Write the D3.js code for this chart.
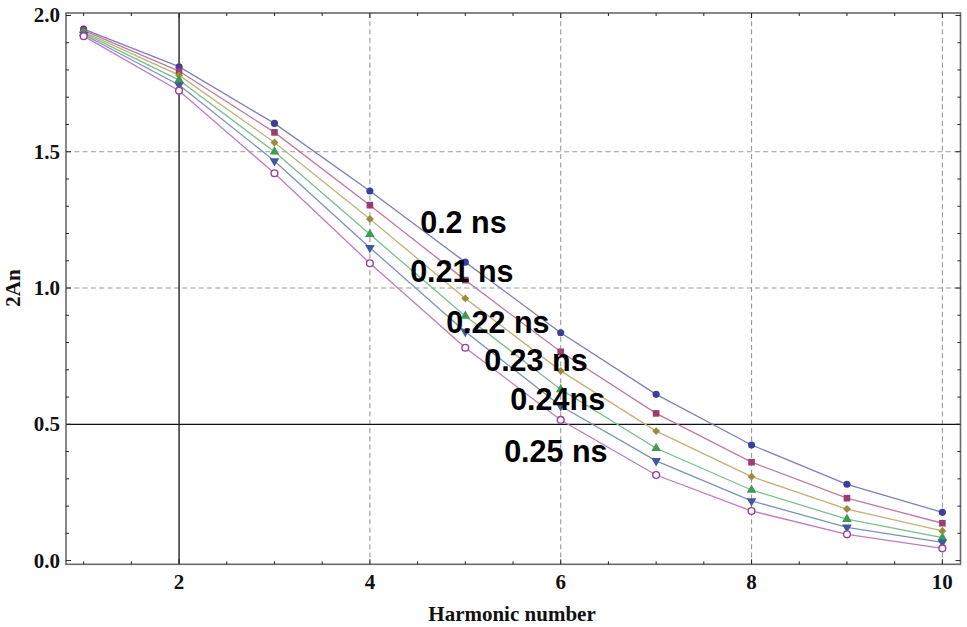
<!DOCTYPE html>
<html>
<head>
<meta charset="utf-8">
<script src="https://cdn.jsdelivr.net/npm/d3@7"></script>
<style>
  html, body { margin: 0; padding: 0; background: #fff; }
  svg { display: block; }
</style>
</head>
<body>
<svg id="chart" width="967" height="627"></svg>
<script>
// ---- data ----
const harmonics = [1, 2, 3, 4, 5, 6, 7, 8, 9, 10];
const seriesNames = ["0.2 ns", "0.21 ns", "0.22 ns", "0.23 ns", "0.24ns", "0.25 ns"];
const s020 = [1.950, 1.812, 1.604, 1.356, 1.095, 0.836, 0.610, 0.424, 0.280, 0.177];
const s021 = [1.945, 1.796, 1.571, 1.304, 1.029, 0.766, 0.540, 0.361, 0.229, 0.137];
const s022 = [1.940, 1.781, 1.534, 1.253, 0.962, 0.696, 0.475, 0.308, 0.189, 0.109];
const s023 = [1.935, 1.763, 1.500, 1.197, 0.897, 0.628, 0.412, 0.259, 0.152, 0.084];
const s024 = [1.930, 1.745, 1.466, 1.148, 0.840, 0.567, 0.366, 0.219, 0.122, 0.067];
const s025 = [1.924, 1.724, 1.421, 1.091, 0.781, 0.516, 0.314, 0.182, 0.0965, 0.045];
const seriesValues = [s020, s021, s022, s023, s024, s025];
// label anchors (data units)
const labelX = [4.527, 4.422, 4.799, 5.198, 5.47, 5.407];
const labelY = [1.202, 1.022, 0.835, 0.6955, 0.5525, 0.3617];
const xTickValues = [2, 4, 6, 8, 10];
const yTickValues = [0.0, 0.5, 1.0, 1.5, 2.0];
const xTickLabels = ["2", "4", "6", "8", "10"];
const yTickLabels = ["0.0", "0.5", "1.0", "1.5", "2.0"];
const xGrid = [4, 6, 8, 10];
const yGrid = [1.0, 1.5];
const axisOrigin = [2, 0.5];

// ---- styles ----
const markerColors = ["#3d3d9c", "#9c3d72", "#9c8a3d", "#3d9c52", "#3d5a9c", "#9c3d9c"];
const lineColors   = ["#7e7ec0", "#c07a9e", "#c0b27a", "#7ac08a", "#7a92c0", "#c07ac0"];

const svg = d3.select("#chart");
const L = 66, R = 960.5, T = 13, B = 564.3;

const x = d3.scaleLinear().domain([0.815, 10.19]).range([L, R]);
const y = d3.scaleLinear().domain([-0.0136, 2.009]).range([B, T]);

// grid
const g = svg.append("g");
g.selectAll("line.gx").data(xGrid).join("line")
  .attr("x1", d => x(d)).attr("x2", d => x(d))
  .attr("y1", T).attr("y2", B)
  .attr("stroke", "#9a9a9a").attr("stroke-width", 1.1).attr("stroke-dasharray", "5,3.3");
g.selectAll("line.gy").data(yGrid).join("line")
  .attr("y1", d => y(d)).attr("y2", d => y(d))
  .attr("x1", L).attr("x2", R)
  .attr("stroke", "#9a9a9a").attr("stroke-width", 1.1).attr("stroke-dasharray", "5,3.3");

// axes through origin
svg.append("line").attr("x1", x(axisOrigin[0])).attr("x2", x(axisOrigin[0]))
  .attr("y1", T).attr("y2", B).attr("stroke", "#111").attr("stroke-width", 1.3);
svg.append("line").attr("y1", y(axisOrigin[1])).attr("y2", y(axisOrigin[1]))
  .attr("x1", L).attr("x2", R).attr("stroke", "#111").attr("stroke-width", 1.3);

// frame
svg.append("rect").attr("x", L).attr("y", T).attr("width", R - L).attr("height", B - T)
  .attr("fill", "none").attr("stroke", "#6a6a6a").attr("stroke-width", 1.6);

// frame ticks
const xMinor = d3.range(1, 10.01, 0.5);
const yMinor = d3.range(0, 2.001, 0.1).map(v => +v.toFixed(2));
const isMajorX = v => Math.abs(v / 2 - Math.round(v / 2)) < 1e-6;
const isMajorY = v => Math.abs(v / 0.5 - Math.round(v / 0.5)) < 1e-6;
const ticks = svg.append("g").attr("stroke", "#222").attr("stroke-width", 1);
xMinor.forEach(v => {
  const len = isMajorX(v) ? 5 : 3;
  ticks.append("line").attr("x1", x(v)).attr("x2", x(v)).attr("y1", B).attr("y2", B - len);
  ticks.append("line").attr("x1", x(v)).attr("x2", x(v)).attr("y1", T).attr("y2", T + len);
});
yMinor.forEach(v => {
  const len = isMajorY(v) ? 5 : 3;
  ticks.append("line").attr("y1", y(v)).attr("y2", y(v)).attr("x1", L).attr("x2", L + len);
  ticks.append("line").attr("y1", y(v)).attr("y2", y(v)).attr("x1", R).attr("x2", R - len);
});

// tick labels
const serif = "'Liberation Serif','Times New Roman',serif";
svg.append("g").selectAll("text").data(xTickValues).join("text")
  .attr("x", d => x(d)).attr("y", 589)
  .attr("text-anchor", "middle")
  .attr("font-family", serif).attr("font-weight", "bold").attr("font-size", 21)
  .attr("fill", "#111")
  .text((d, i) => xTickLabels[i]);
svg.append("g").selectAll("text").data(yTickValues).join("text")
  .attr("x", 60).attr("y", d => y(d) + 7)
  .attr("text-anchor", "end")
  .attr("font-family", serif).attr("font-weight", "bold").attr("font-size", 21)
  .attr("fill", "#111")
  .text((d, i) => yTickLabels[i]);

// axis titles
svg.append("text").attr("x", 512).attr("y", 621)
  .attr("text-anchor", "middle")
  .attr("font-family", serif).attr("font-weight", "bold").attr("font-size", 21)
  .attr("fill", "#111").text("Harmonic number");
svg.append("text").attr("transform", "translate(20,288) rotate(-90)")
  .attr("text-anchor", "middle")
  .attr("font-family", serif).attr("font-weight", "bold").attr("font-size", 21)
  .attr("fill", "#111").text("2An");

// lines
const line = d3.line().x((d, i) => x(harmonics[i])).y(d => y(d));
svg.append("g").selectAll("path").data(seriesValues).join("path")
  .attr("d", d => line(d))
  .attr("fill", "none")
  .attr("stroke", (d, i) => lineColors[i])
  .attr("stroke-width", 1.3);

// markers
const symbols = [
  d3.symbol().type(d3.symbolCircle).size(40),
  d3.symbol().type(d3.symbolSquare).size(44),
  d3.symbol().type(d3.symbolDiamond2).size(40),
  d3.symbol().type(d3.symbolTriangle).size(40),
  d3.symbol().type(d3.symbolTriangle).size(40),
  d3.symbol().type(d3.symbolCircle).size(36)
];
seriesValues.forEach((vals, si) => {
  svg.append("g").selectAll("path").data(vals).join("path")
    .attr("transform", (d, i) => `translate(${x(harmonics[i])},${y(d)})` + (si === 4 ? " rotate(180)" : ""))
    .attr("d", symbols[si]())
    .attr("fill", si === 5 ? "#fff" : markerColors[si])
    .attr("stroke", si === 5 ? markerColors[si] : "none")
    .attr("stroke-width", si === 5 ? 1.4 : 0);
});

// series labels
svg.append("g").selectAll("text").data(seriesNames).join("text")
  .attr("x", (d, i) => x(labelX[i]))
  .attr("y", (d, i) => y(labelY[i]))
  .attr("font-family", "'Liberation Sans',Arial,sans-serif")
  .attr("font-weight", "bold").attr("font-size", 30.5)
  .attr("fill", "#000")
  .text(d => d);
</script>
</body>
</html>
